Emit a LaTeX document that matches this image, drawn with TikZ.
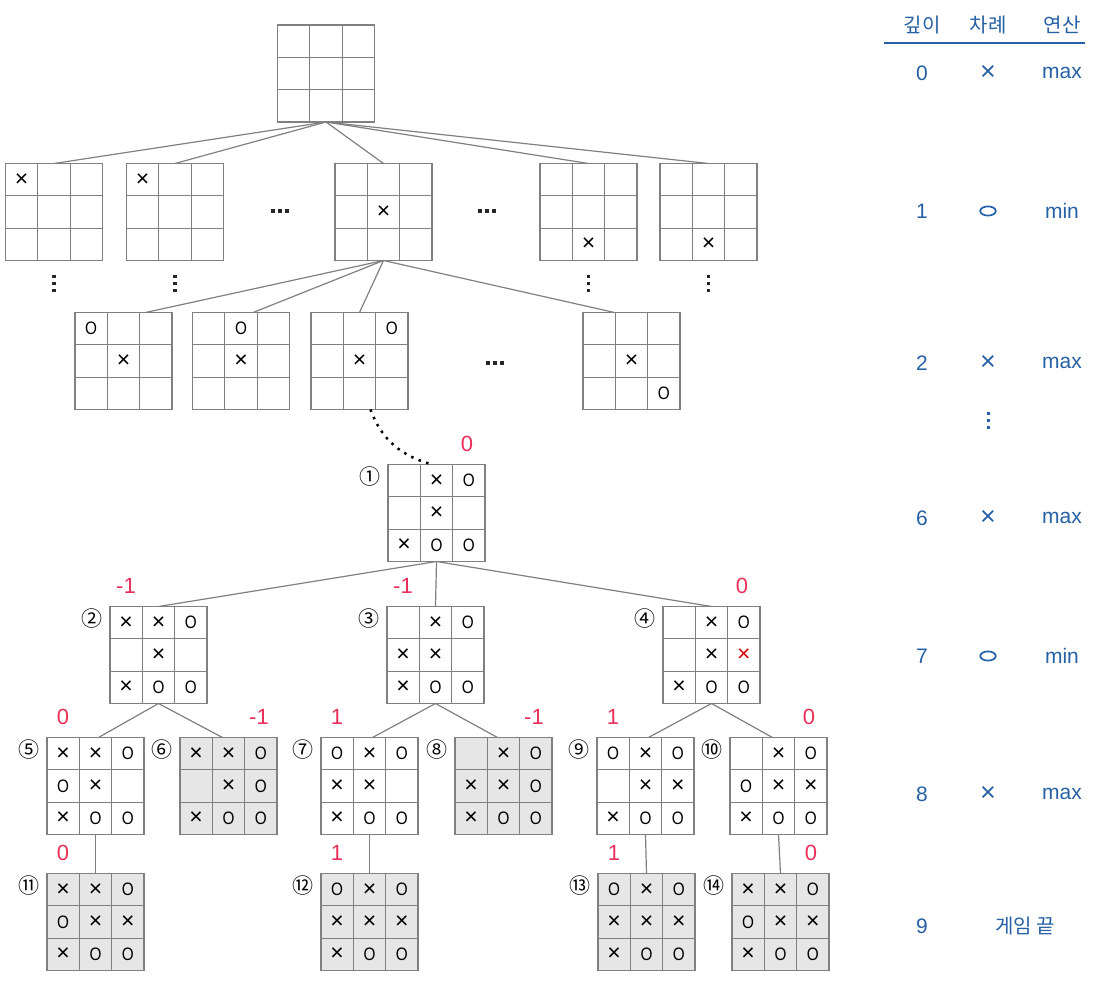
\documentclass[tikz,border=0pt]{standalone}
\usepackage{fontspec}
\setmainfont{Liberation Sans}
\newfontfamily\krfont{Noto Sans CJK KR}
\usetikzlibrary{calc,positioning}

\definecolor{linegray}{RGB}{128,128,128}
\definecolor{cellgray}{RGB}{230,230,230}
\definecolor{valred}{RGB}{232,48,90}
\definecolor{tblue}{RGB}{38,96,165}

% cell marks
\newcommand{\Xm}{{\fontsize{23}{24}\selectfont ×}}
\newcommand{\Xr}{\textcolor{red!85!black}{\fontsize{23}{24}\selectfont ×}}
\newcommand{\Om}{\scalebox{0.85}[1]{O}}
\newcommand{\Em}{}
\newcommand{\cellsz}{32.33}

% #1 name, #2 centre, #3 fill, #4 nine marks
\newcommand{\tttboard}[4]{%
  \node[boardbox, fill=#3] (#1) at (#2) {};
  \foreach \t in {1,2} {
    \draw[gridline] ($(#1.north west)!\t/3!(#1.north east)$) -- ($(#1.south west)!\t/3!(#1.south east)$);
    \draw[gridline] ($(#1.north west)!\t/3!(#1.south west)$) -- ($(#1.north east)!\t/3!(#1.south east)$);
  }
  \foreach \m [count=\k from 0] in {#4} {
    \pgfmathtruncatemacro{\rw}{\k/3}
    \pgfmathtruncatemacro{\cl}{\k-3*\rw}
    \node[cellmark] at ($(#1.north west)+({(\cl+0.5)*\cellsz},{(\rw+0.5)*\cellsz})$) {\m};
  }
}

\begin{document}
\begin{tikzpicture}[x=1pt, y=-1pt,
    boardbox/.style={draw=linegray, line width=1.3pt, minimum size=97pt, inner sep=0pt, outer sep=0pt},
    gridline/.style={draw=linegray, line width=1.3pt},
    cellmark/.style={font=\fontsize{18}{19}\selectfont, inner sep=0pt},
    treeedge/.style={draw=linegray, line width=1.2pt},
    val/.style={text=valred, font=\fontsize{22}{24}\selectfont},
    idx/.style={font=\krfont\fontsize{21}{22}\selectfont},
    tbl/.style={text=tblue, font=\fontsize{21}{24}\selectfont},
    dotmark/.style={fill=black!85, minimum size=3.4pt, inner sep=0pt, shape=rectangle}]
  \useasboundingbox (0,0) rectangle (1109,999);

  % root and first move
  \tttboard{b0}{326,73.5}{white}{\Em,\Em,\Em,\Em,\Em,\Em,\Em,\Em,\Em}
  \tttboard{a1}{54,212}{white}{\Xm,\Em,\Em,\Em,\Em,\Em,\Em,\Em,\Em}
  \tttboard{a2}{175,212}{white}{\Xm,\Em,\Em,\Em,\Em,\Em,\Em,\Em,\Em}
  \tttboard{a3}{383.5,212}{white}{\Em,\Em,\Em,\Em,\Xm,\Em,\Em,\Em,\Em}
  \tttboard{a4}{588.5,212}{white}{\Em,\Em,\Em,\Em,\Em,\Em,\Em,\Xm,\Em}
  \tttboard{a5}{708.5,212}{white}{\Em,\Em,\Em,\Em,\Em,\Em,\Em,\Xm,\Em}
  \foreach \a in {a1,a2,a3,a4,a5}
    \draw[treeedge] (b0.south) -- (\a.north);
  % omitted siblings
  \foreach \px/\py in {280/211, 487/211, 495/363}
    \foreach \d in {-7,0,7}
      \node[dotmark] at (\px+\d,\py) {};
  \foreach \a in {a1,a2,a4,a5}
    \foreach \d in {16,23,30}
      \node[dotmark] at ([yshift=-\d]\a.south) {};

  % second move
  \tttboard{c1}{123.5,361}{white}{\Om,\Em,\Em,\Em,\Xm,\Em,\Em,\Em,\Em}
  \tttboard{c2}{241,361}{white}{\Em,\Om,\Em,\Em,\Xm,\Em,\Em,\Em,\Em}
  \tttboard{c3}{359.5,361}{white}{\Em,\Em,\Om,\Em,\Xm,\Em,\Em,\Em,\Em}
  \tttboard{c4}{631.5,361}{white}{\Em,\Em,\Em,\Em,\Xm,\Em,\Em,\Em,\Om}
  \draw[treeedge] (a3.south) -- ([xshift=22]c1.north);
  \draw[treeedge] (a3.south) -- ([xshift=12]c2.north);
  \draw[treeedge] (a3.south) -- (c3.north);
  \draw[treeedge] (a3.south) -- ([xshift=-17]c4.north);

  % depth 6 position
  \tttboard{n1}{436.5,513}{white}{\Em,\Xm,\Om,\Em,\Xm,\Em,\Xm,\Om,\Om}
  \draw[line width=2.5pt, dash pattern=on 2.5pt off 5.5pt] ([xshift=11]c3.south) to[out=-70, in=165] ([xshift=-4]n1.north);

  % depth 7
  \tttboard{n2}{158.5,655}{white}{\Xm,\Xm,\Om,\Em,\Xm,\Em,\Xm,\Om,\Om}
  \tttboard{n3}{435.5,655}{white}{\Em,\Xm,\Om,\Xm,\Xm,\Em,\Xm,\Om,\Om}
  \tttboard{n4}{711.5,655}{white}{\Em,\Xm,\Om,\Em,\Xm,\Xr,\Xm,\Om,\Om}
  \foreach \a in {n2,n3,n4}
    \draw[treeedge] (n1.south) -- (\a.north);

  % depth 8
  \tttboard{n5}{95.5,786}{white}{\Xm,\Xm,\Om,\Om,\Xm,\Em,\Xm,\Om,\Om}
  \tttboard{n6}{228.5,786}{cellgray}{\Xm,\Xm,\Om,\Em,\Xm,\Om,\Xm,\Om,\Om}
  \tttboard{n7}{369.5,786}{white}{\Om,\Xm,\Om,\Xm,\Xm,\Em,\Xm,\Om,\Om}
  \tttboard{n8}{503.5,786}{cellgray}{\Em,\Xm,\Om,\Xm,\Xm,\Om,\Xm,\Om,\Om}
  \tttboard{n9}{645.5,786}{white}{\Om,\Xm,\Om,\Em,\Xm,\Xm,\Xm,\Om,\Om}
  \tttboard{n10}{778.5,786}{white}{\Em,\Xm,\Om,\Om,\Xm,\Xm,\Xm,\Om,\Om}
  \draw[treeedge] (n2.south) -- ([xshift=3]n5.north);
  \draw[treeedge] (n2.south) -- ([xshift=-6]n6.north);
  \draw[treeedge] (n3.south) -- ([xshift=3]n7.north);
  \draw[treeedge] (n3.south) -- ([xshift=-6]n8.north);
  \draw[treeedge] (n4.south) -- ([xshift=3]n9.north);
  \draw[treeedge] (n4.south) -- ([xshift=-6]n10.north);

  % depth 9, game over
  \tttboard{n11}{95.5,922}{cellgray}{\Xm,\Xm,\Om,\Om,\Xm,\Xm,\Xm,\Om,\Om}
  \tttboard{n12}{369.5,922}{cellgray}{\Om,\Xm,\Om,\Xm,\Xm,\Xm,\Xm,\Om,\Om}
  \tttboard{n13}{646.5,922}{cellgray}{\Om,\Xm,\Om,\Xm,\Xm,\Xm,\Xm,\Om,\Om}
  \tttboard{n14}{780.5,922}{cellgray}{\Xm,\Xm,\Om,\Om,\Xm,\Xm,\Xm,\Om,\Om}
  \draw[treeedge] (n5.south) -- (n11.north);
  \draw[treeedge] (n7.south) -- (n12.north);
  \draw[treeedge] (n9.south) -- (n13.north);
  \draw[treeedge] (n10.south) -- (n14.north);

  % circled numbers
  \foreach \a/\lab in {n1/①,n2/②,n3/③,n4/④,n5/⑤,n6/⑥,n7/⑦,n8/⑧,n9/⑨,n10/⑩,n11/⑪,n12/⑫,n13/⑬,n14/⑭}
    \node[idx] at ([shift={(-18,12)}]\a.north west) {\lab};

  % minimax values
  \foreach \a/\v in {n2/-1,n3/-1,n5/0,n7/1,n9/1,n11/0,n12/1,n13/1}
    \node[val] at ([shift={(16,-21)}]\a.north west) {\v};
  \foreach \a/\v in {n1/0,n4/0,n6/-1,n8/-1,n10/0,n14/0}
    \node[val] at ([shift={(-18,-21)}]\a.north east) {\v};

  % depth / turn / operation table
  \node[tbl, font=\krfont\fontsize{20}{24}\selectfont] (hd) at (922,25) {깊이};
  \node[tbl, font=\krfont\fontsize{20}{24}\selectfont] (ht) at (988,25) {차례};
  \node[tbl, font=\krfont\fontsize{20}{24}\selectfont] (ho) at (1062,25) {연산};
  \draw[tblue, line width=1.5pt] (884,43) -- (1085,43);
  \foreach \d/\o/\y in {0/max/73, 1/min/211, 2/max/363, 6/max/518, 7/min/656, 8/max/794} {
    \node[tbl] at (922,\y) {\d};
    \node[tbl] at (1062,\y) {\o};
  }
  \foreach \y in {73,363,518,794}
    \node[tbl, font=\fontsize{27}{28}\selectfont] at (988,\y) {×};
  \foreach \y in {211,656}
    \draw[tblue, line width=1.7pt] (988,\y) ellipse (7.8 and 4.6);
  \foreach \d in {413,420,427}
    \node[dotmark, fill=tblue, minimum size=3pt] at (988,\d) {};
  \node[tbl] at (922,926) {9};
  \node[tbl, font=\krfont\fontsize{20}{24}\selectfont] (end) at (1025,926) {게임 끝};
\end{tikzpicture}
\end{document}
